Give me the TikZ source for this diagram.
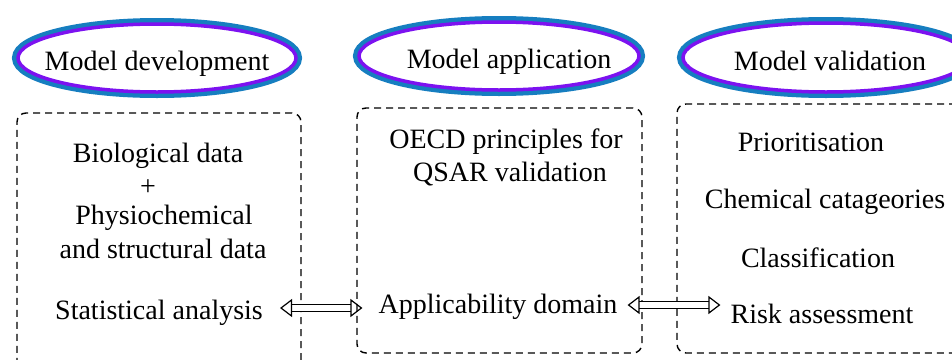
\documentclass[tikz,border=0pt]{standalone}
\usepackage{fontspec}
\setmainfont{Liberation Serif}
\usetikzlibrary{shapes.geometric, arrows.meta}
\definecolor{ringblue}{RGB}{22,126,192}
\definecolor{ringviolet}{RGB}{124,18,240}

\begin{document}
\begin{tikzpicture}[x=1pt, y=-1pt, font=\fontsize{28}{32}\selectfont,
    title/.style = {ellipse, inner xsep=-20pt, inner ysep=0pt, fill=white, draw=ringviolet, line width=3.5pt, preaction={draw=ringblue, line width=12pt}, text height=25pt, text depth=0pt},
    panel/.style = {draw, line width=1.4pt, dash pattern=on 7pt off 5pt, rounded corners=9pt, inner sep=0pt},
    item/.style = {inner sep=0pt, anchor=base},
    twoway/.style = {double, double distance=6pt, line width=1.2pt, {Triangle[open, length=12pt, width=18pt, line width=1.2pt]}-{Triangle[open, length=12pt, width=18pt, line width=1.2pt]}}]
                \path[use as bounding box] (0,0) rectangle (952,359);
                \node[title, minimum width=278pt, minimum height=68pt] (dev) at (157,58) {Model development};
                \node[title, minimum width=280pt, minimum height=68pt] (app) at (499,56) {\hspace*{20pt}Model application};
                \node[title, minimum width=286pt, minimum height=69pt] (val) at (826,57.5) {\hspace*{8pt}Model validation};
                \node[panel, minimum width=284pt, minimum height=270pt] (devbox) at (159,248) {};
                \node[panel, minimum width=285pt, minimum height=245pt] (appbox) at (499.5,230.5) {};
                \node[panel, minimum width=300pt, minimum height=249pt] (valbox) at (827,228.5) {};
                \node[item] (bio) at (158,162) {Biological data};
                \node[item] (plus) at (148,195) {+};
                \node[item] (phys) at (164,224) {Physiochemical};
                \node[item] (struc) at (163,258) {and structural data};
                \node[item] (stat) at (159,319) {Statistical analysis};
                \node[item] (oecd) at (506,148) {OECD principles for};
                \node[item] (qsar) at (510,181) {QSAR validation};
                \node[item] (appl) at (498,313) {Applicability domain};
                \node[item] (prio) at (811,151) {Prioritisation};
                \node[item] (chem) at (825,208) {Chemical catageories};
                \node[item] (class) at (818,267) {Classification};
                \node[item] (risk) at (822,323) {Risk assessment};
                \coordinate (row1) at (0,308);
                \coordinate (row2) at (0,305);
                \draw[twoway, shorten <=17pt, shorten >=16pt] (stat.east |- row1) -- (appl.west |- row1);
                \draw[twoway, shorten <=10pt, shorten >=10pt] (appl.east |- row2) -- (risk.west |- row2);
            \end{tikzpicture}
\end{document}
